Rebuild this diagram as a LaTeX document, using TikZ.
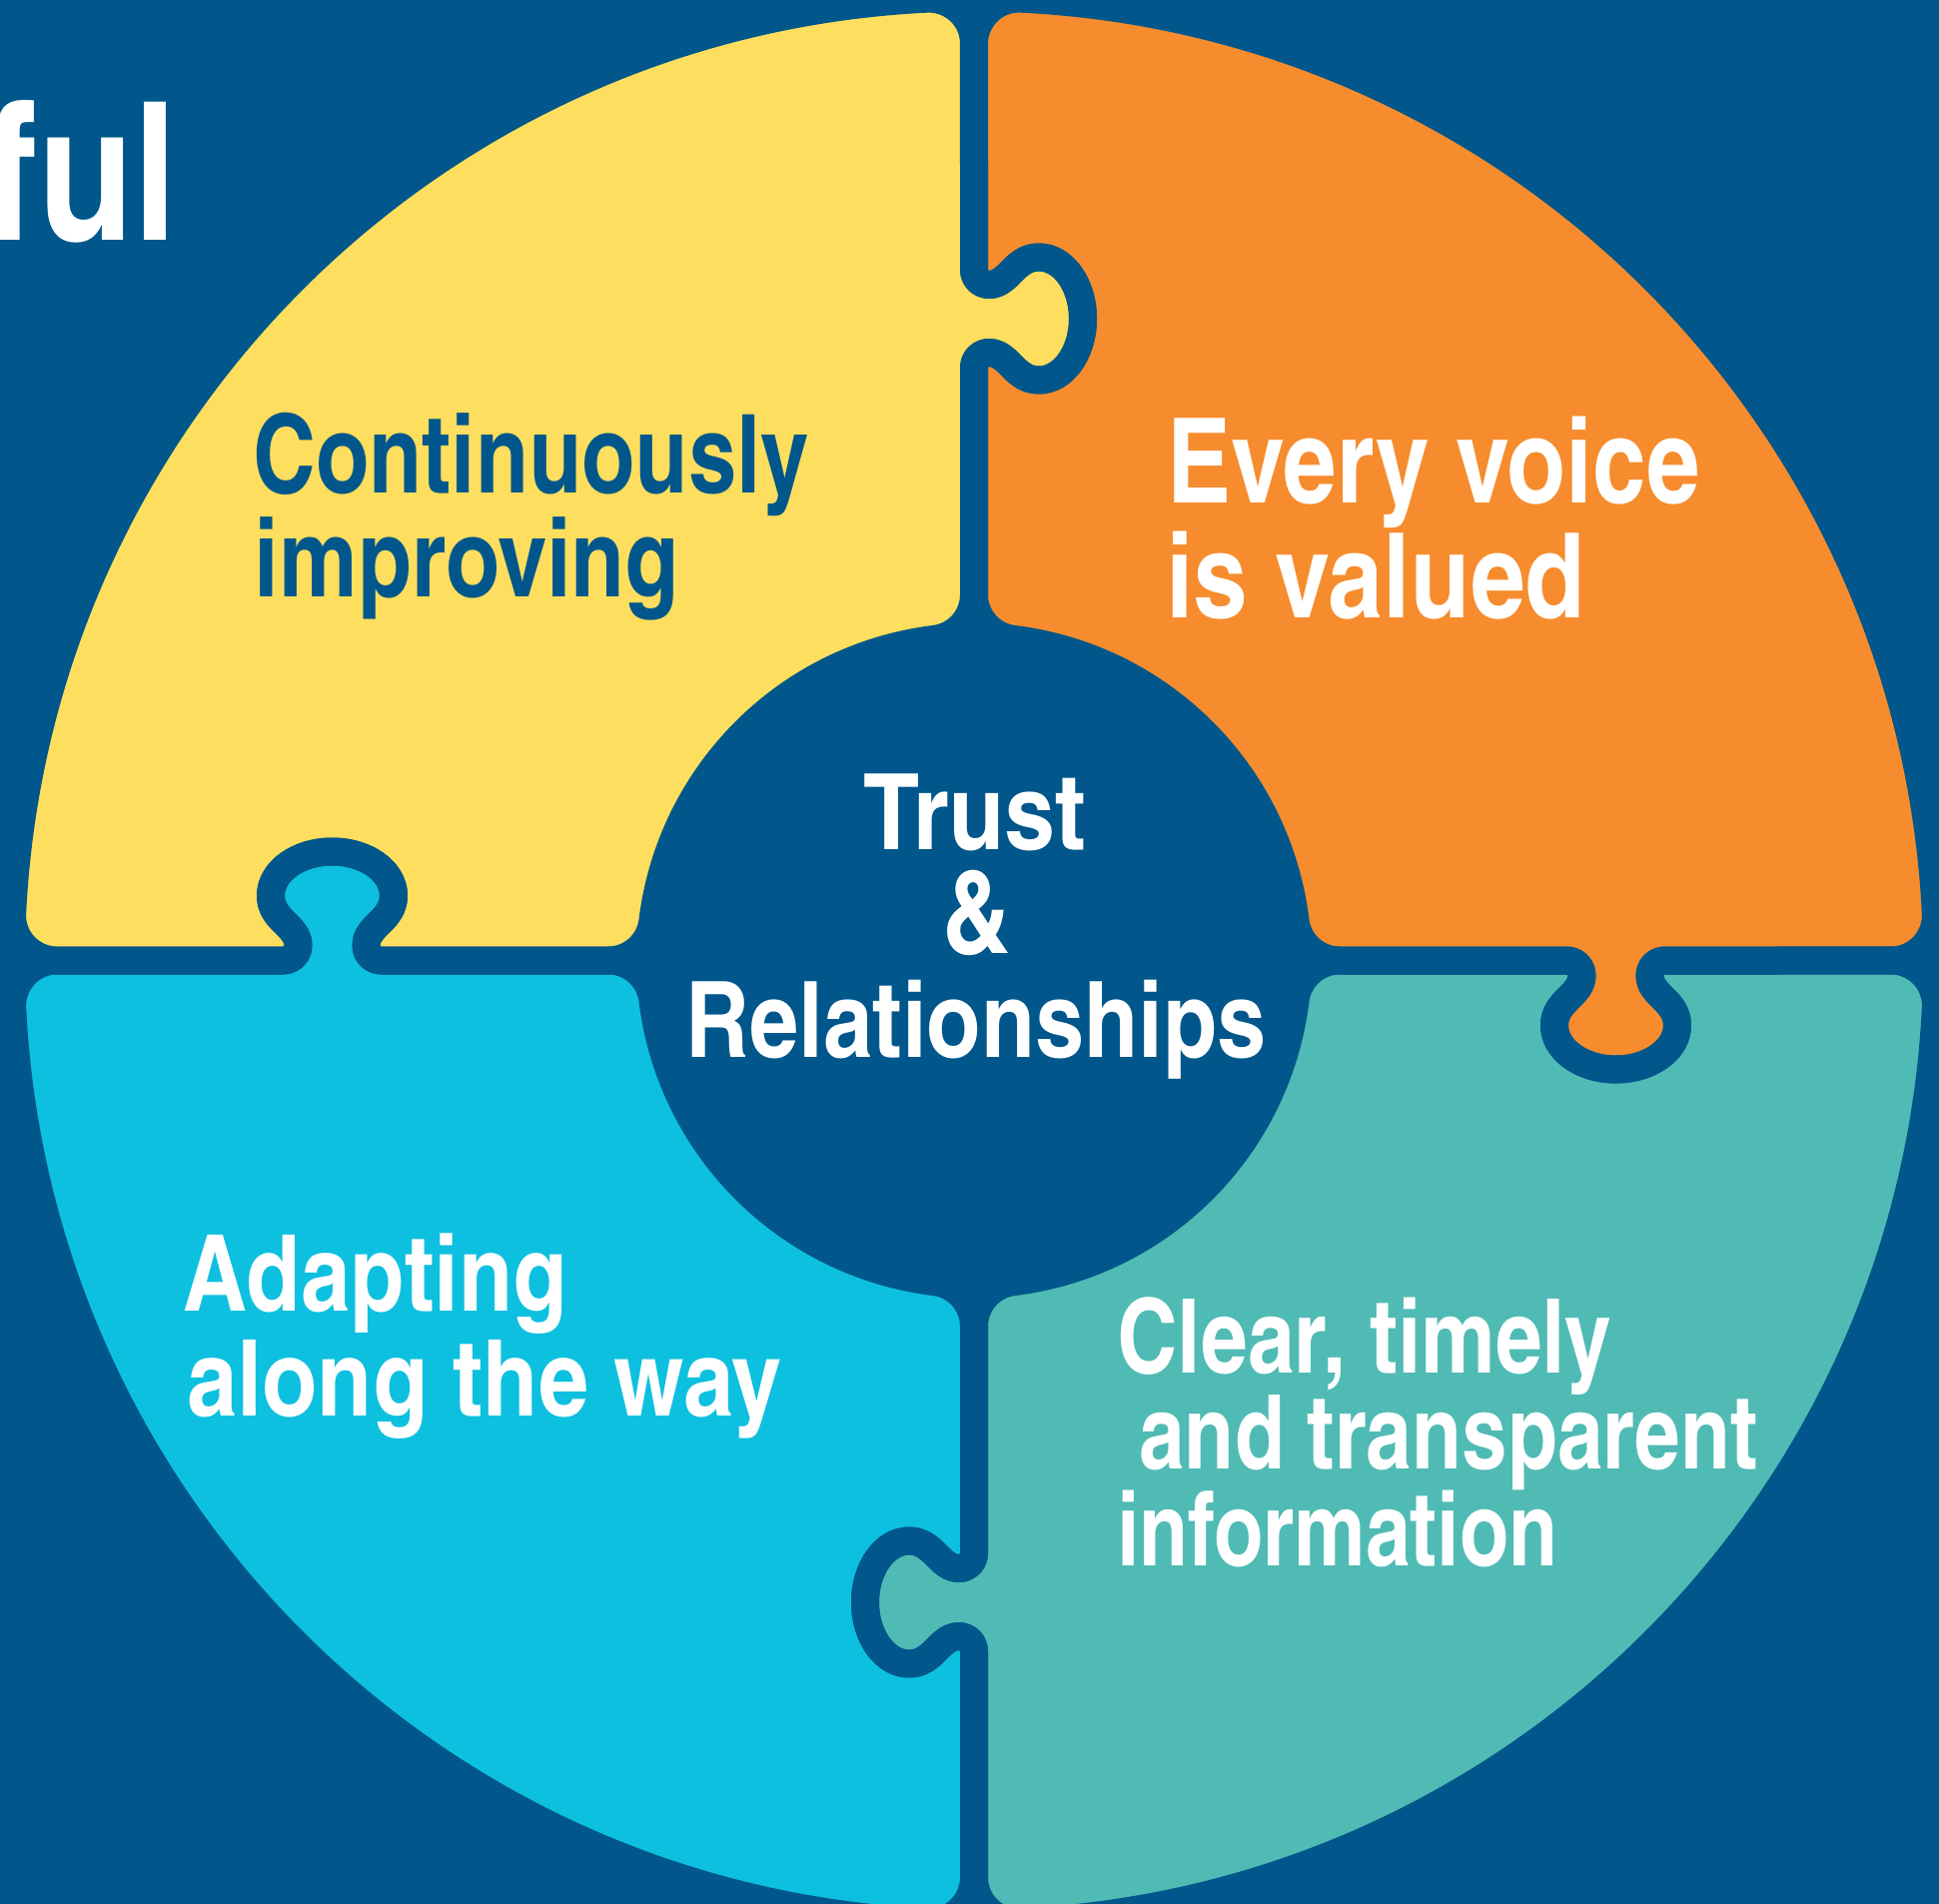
\documentclass[tikz,border=0pt]{standalone}
\usepackage{fontspec}
\usepackage{graphicx}
\newfontfamily\cnb{texgyreheroscn-bold.otf}
\definecolor{bgblue}{RGB}{1,87,139}
\definecolor{pyellow}{RGB}{254,222,94}
\definecolor{porange}{RGB}{246,140,45}
\definecolor{pteal}{RGB}{80,187,180}
\definecolor{pcyan}{RGB}{14,192,223}
% tab/socket centreline: base (#1,#2), outward (#3,#4), travel direction (#5,#6)
\newcommand\tabpath[6]{%
 -- ({#1-49*(#5)},{#2-49*(#6)})
 .. controls ({#1-40.7*(#5)},{#2-40.7*(#6)}) and ({#1+6.7*(#3)-34*(#5)},{#2+6.7*(#4)-34*(#6)}) .. ({#1+15*(#3)-34*(#5)},{#2+15*(#4)-34*(#6)})
 .. controls ({#1+35*(#3)-34*(#5)},{#2+35*(#4)-34*(#6)}) and ({#1+40*(#3)-61.5*(#5)},{#2+40*(#4)-61.5*(#6)}) .. ({#1+65*(#3)-61.5*(#5)},{#2+65*(#4)-61.5*(#6)})
 .. controls ({#1+89.3*(#3)-61.5*(#5)},{#2+89.3*(#4)-61.5*(#6)}) and ({#1+109*(#3)-34*(#5)},{#2+109*(#4)-34*(#6)}) .. ({#1+109*(#3)},{#2+109*(#4)})
 .. controls ({#1+109*(#3)+34*(#5)},{#2+109*(#4)+34*(#6)}) and ({#1+89.3*(#3)+61.5*(#5)},{#2+89.3*(#4)+61.5*(#6)}) .. ({#1+65*(#3)+61.5*(#5)},{#2+65*(#4)+61.5*(#6)})
 .. controls ({#1+40*(#3)+61.5*(#5)},{#2+40*(#4)+61.5*(#6)}) and ({#1+35*(#3)+34*(#5)},{#2+35*(#4)+34*(#6)}) .. ({#1+15*(#3)+34*(#5)},{#2+15*(#4)+34*(#6)})
 .. controls ({#1+6.7*(#3)+34*(#5)},{#2+6.7*(#4)+34*(#6)}) and ({#1+40.7*(#5)},{#2+40.7*(#6)}) .. ({#1+49*(#5)},{#2+49*(#6)})
}
% one quarter piece (top-left), centreline of the gaps
\newcommand\piecepath{%
 (-917.89,0) arc[start angle=90,end angle=182.807,radius=45]
 arc[start angle=182.807,end angle=267.193,radius=964]
 arc[start angle=267.193,end angle=360,radius=45]
 \tabpath{0}{-642.5}{1}{0}{0}{1}
 -- (0,-366.24)
 arc[start angle=0,end angle=82.995,radius=45]
 arc[start angle=-97.005,end angle=-172.995,radius=324]
 arc[start angle=7.005,end angle=90,radius=45]
 \tabpath{-642.5}{0}{0}{-1}{-1}{0}
 -- cycle}
\newcommand\fyel{\cnb\fontsize{109pt}{109pt}\selectfont}
\newcommand\forg{\cnb\fontsize{118pt}{118pt}\selectfont}
\newcommand\fctr{\cnb\fontsize{105.5pt}{105.5pt}\selectfont}
\newcommand\fcya{\cnb\fontsize{106pt}{106pt}\selectfont}
\newcommand\fmid{\cnb\fontsize{103pt}{103pt}\selectfont}
\begin{document}
\begin{tikzpicture}[x=1pt,y=-1pt,
  gap/.style={draw=bgblue,line width=28pt,line join=round},
  lbl/.style={anchor=base west,inner sep=0pt,outer sep=0pt},
  lblc/.style={anchor=base,inner sep=0pt,outer sep=0pt}]
\useasboundingbox (0,0) rectangle (1941,1906);
\clip (0,0) rectangle (1941,1906);
\fill[bgblue] (0,0) rectangle (1941,1906);
\begin{scope}[shift={(975,961.5)}]
  \fill[pyellow] \piecepath;
  \begin{scope}[rotate=-90] \fill[porange] \piecepath; \end{scope}
  \begin{scope}[rotate=-180] \fill[pteal] \piecepath; \end{scope}
  \begin{scope}[rotate=90] \fill[pcyan] \piecepath; \end{scope}
  \draw[gap] \piecepath;
  \begin{scope}[rotate=-90] \draw[gap] \piecepath; \end{scope}
  \begin{scope}[rotate=-180] \draw[gap] \piecepath; \end{scope}
  \begin{scope}[rotate=90] \draw[gap] \piecepath; \end{scope}
\end{scope}
% cut-off title fragment
\node[anchor=base east,inner sep=0pt,text=white,font=\cnb\fontsize{194pt}{194pt}\selectfont] (ful) at (178,240.7) {\resizebox{!}{140pt}{ful}};
% yellow
\node[lbl,text=bgblue,font=\fyel] (y1) at (253.6,493.3) {\resizebox{556pt}{\height}{Continuously}};
\node[lbl,text=bgblue,font=\fyel] (y2) at (254.8,597.3) {\resizebox{425pt}{\height}{improving}};
% orange
\node[lbl,text=white,font=\forg] (o1) at (1168,503.3) {\resizebox{533.5pt}{\height}{Every voice}};
\node[lbl,text=white,font=\forg] (o2) at (1167,618.3) {\resizebox{420pt}{\height}{is valued}};
% centre
\node[lblc,text=white,font=\fctr] (c1) at (975.9,850) {\resizebox{222pt}{\height}{Trust}};
\node[lblc,text=white,font=\fctr] (c2) at (977,954) {\resizebox{68pt}{1.1\height}{\&}};
\node[lblc,text=white,font=\fctr] (c3) at (977.2,1058.3) {\resizebox{581pt}{\height}{Relationships}};
% cyan
\node[lbl,text=white,font=\fcya] (b1) at (183.8,1312.7) {\resizebox{384pt}{\height}{Adapting}};
\node[lbl,text=white,font=\fcya] (b2) at (187.6,1417.3) {\resizebox{595pt}{\height}{along the way}};
% teal
\node[lbl,text=white,font=\fmid] (g1) at (1118.3,1374) {\resizebox{495pt}{\height}{Clear, timely}};
\node[lbl,text=white,font=\fmid] (g2) at (1140.4,1470.6) {\resizebox{619pt}{\height}{and transparent}};
\node[lbl,text=white,font=\fmid] (g3) at (1118.3,1567) {\resizebox{441pt}{\height}{information}};
\end{tikzpicture}
\end{document}
